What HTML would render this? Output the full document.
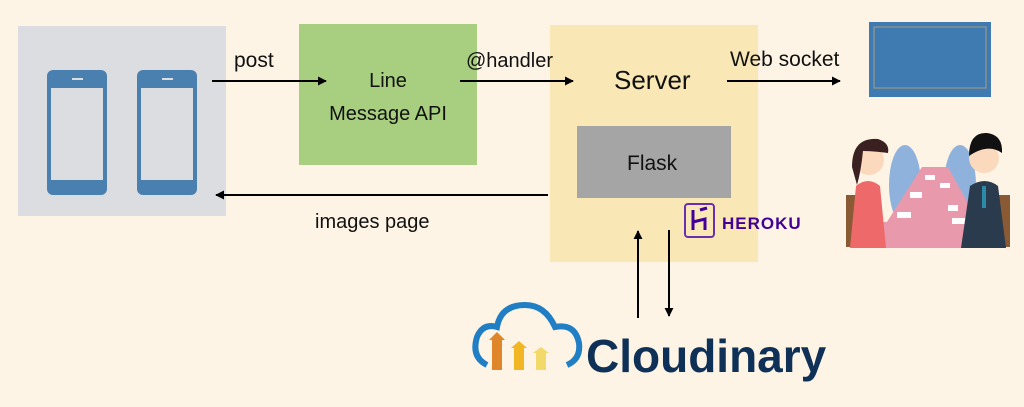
<!DOCTYPE html>
<html><head><meta charset="utf-8"><style>
html,body{margin:0;padding:0;background:#fdf4e5;}
svg{display:block;font-family:"Liberation Sans",sans-serif;}
</style></head><body>
<svg width="1024" height="407" viewBox="0 0 1024 407" xmlns="http://www.w3.org/2000/svg">
<defs>
<marker id="ah" viewBox="0 0 10 10" refX="9" refY="5" markerWidth="9" markerHeight="9" markerUnits="userSpaceOnUse" orient="auto"><path d="M0,0 L10,5 L0,10 z" fill="#000"/></marker>
</defs>
<rect width="1024" height="407" fill="#fdf4e5"/>
<rect x="18" y="26" width="208" height="190" fill="#dcdde0"/>
<g fill="#4a80b0">
<rect x="47" y="70" width="60" height="125" rx="6"/>
<rect x="137" y="70" width="60" height="125" rx="6"/>
</g>
<g fill="#dcdde0">
<rect x="51" y="88" width="52" height="92"/>
<rect x="141" y="88" width="52" height="92"/>
<rect x="72" y="78" width="11" height="2"/>
<rect x="162" y="78" width="11" height="2"/>
</g>
<rect x="299" y="24" width="178" height="141" fill="#a8cf80"/>
<text x="388" y="87" font-size="20" text-anchor="middle" fill="#111">Line</text>
<text x="388" y="120" font-size="20" text-anchor="middle" fill="#111">Message API</text>
<rect x="550" y="25" width="208" height="237" fill="#f9e8b5"/>
<text x="614" y="89" font-size="26" fill="#111">Server</text>
<rect x="577" y="126" width="154" height="72" fill="#a5a5a5"/>
<text x="627" y="170" font-size="21" fill="#111">Flask</text>
<rect x="685" y="204" width="29" height="33" rx="3" fill="none" stroke="#6a2fb0" stroke-width="2"/>
<path d="M693,210 v20 M693,222 l12,-3 v11 M700,210 l7,-2" stroke="#430098" stroke-width="3" fill="none"/>
<text x="722" y="229" font-size="17" font-weight="bold" fill="#430098" letter-spacing="1">HEROKU</text>
<g stroke="#000" stroke-width="2" fill="none">
<line x1="212" y1="81" x2="326" y2="81" marker-end="url(#ah)"/>
<line x1="460" y1="81" x2="573" y2="81" marker-end="url(#ah)"/>
<line x1="727" y1="81" x2="840" y2="81" marker-end="url(#ah)"/>
<line x1="548" y1="195" x2="216" y2="195" marker-end="url(#ah)"/>
<line x1="638" y1="318" x2="638" y2="231" marker-end="url(#ah)"/>
<line x1="669" y1="230" x2="669" y2="316" marker-end="url(#ah)"/>
</g>
<text x="234" y="67" font-size="21" fill="#111">post</text>
<text x="466" y="67" font-size="20" fill="#111">@handler</text>
<text x="730" y="66" font-size="21" fill="#111">Web socket</text>
<text x="315" y="228" font-size="20" fill="#111">images page</text>
<rect x="869" y="22" width="122" height="75" fill="#3f7bb0"/>
<rect x="874" y="27" width="112" height="61" fill="none" stroke="#a89d80" stroke-width="1"/>
<g>
<rect x="846" y="195" width="16" height="52" fill="#8a5a35"/>
<rect x="994" y="195" width="16" height="52" fill="#8a5a35"/>
<ellipse cx="905" cy="185" rx="16" ry="40" fill="#8fb2dc"/>
<ellipse cx="960" cy="185" rx="16" ry="40" fill="#8fb2dc"/>
<path d="M922,167 L948,167 L980,225 L885,225 z" fill="#e89aac"/>
<rect x="882" y="222" width="100" height="26" fill="#e89aac"/>
<g fill="#fff"><rect x="925" y="175" width="10" height="5"/><rect x="940" y="183" width="10" height="5"/><rect x="910" y="192" width="12" height="6"/><rect x="948" y="205" width="10" height="6"/><rect x="897" y="212" width="14" height="6"/><rect x="952" y="218" width="16" height="6"/></g>
<path d="M856,186 q12,-10 24,0 l6,62 h-36 z" fill="#ee6a6a"/>
<circle cx="869" cy="160" r="15" fill="#fbd9bd"/>
<path d="M852,167 q0,-30 26,-28 q12,4 10,14 q-16,-2 -25,-2 q-2,20 -6,34 z" fill="#3a2020"/>
<path d="M970,186 q15,-10 28,0 l8,62 h-45 z" fill="#2b3b4e"/>
<rect x="982" y="186" width="4" height="22" fill="#2a8aa8"/>
<circle cx="984" cy="158" r="15" fill="#fbd9bd"/>
<path d="M969,156 q0,-24 18,-23 q16,2 15,20 q-14,-10 -33,3 z" fill="#111"/>
</g>
<path d="M487,365 q-16,-8 -10,-28 q6,-14 20,-10 q4,-22 28,-22 q20,0 30,22 q20,-4 24,16 q2,16 -12,22" fill="none" stroke="#1f7ec4" stroke-width="6"/>
<path d="M489,340 l8,-8 l8,8 h-3 v30 h-10 v-30 z" fill="#df852a"/>
<path d="M511,348 l8,-7 l8,7 h-3 v22 h-10 v-22 z" fill="#f2b624"/>
<path d="M533,353 l8,-6 l8,6 h-3 v17 h-10 v-17 z" fill="#f3d96a"/>
<text x="586" y="372" font-size="46" font-weight="bold" fill="#0f3057">Cloudinary</text>
</svg>
</body></html>
